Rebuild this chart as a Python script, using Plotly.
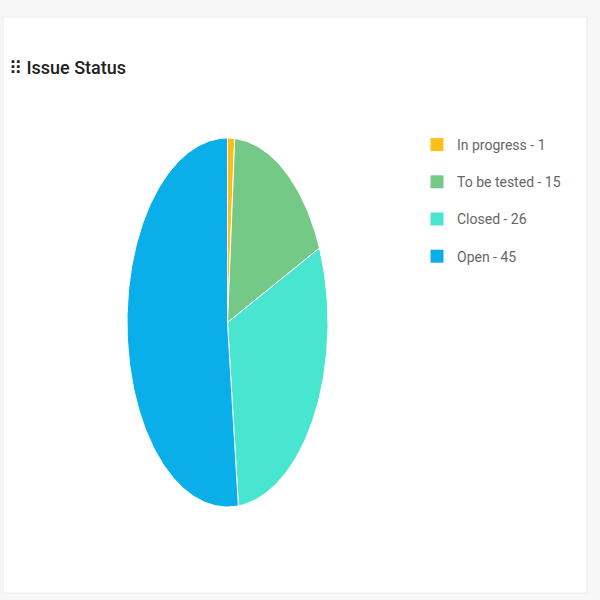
import numpy as np
import plotly.graph_objects as go

labels = ["In progress", "To be tested", "Closed", "Open"]
values = [1, 15, 26, 45]
colors = ["#FDBE19", "#75C986", "#48E5D0", "#0AAEE8"]

total = sum(values)
fig = go.Figure()

start = 0.0
for lab, val, col in zip(labels, values, colors):
    frac0 = start / total
    frac1 = (start + val) / total
    n = max(int((frac1 - frac0) * 400), 4)
    t = np.linspace(frac0, frac1, n)
    ang = np.pi / 2 - 2 * np.pi * t  # clockwise from top
    xs = np.concatenate([[0], np.cos(ang), [0]])
    ys = np.concatenate([[0], np.sin(ang), [0]])
    fig.add_trace(go.Scatter(
        x=xs, y=ys, mode="lines", fill="toself", fillcolor=col,
        line=dict(color="white", width=1),
        name=f"{lab} - {val}", legendgroup=lab, showlegend=False,
        hoverinfo="skip"))
    start += val

for lab, val, col in zip(labels, values, colors):
    fig.add_trace(go.Scatter(
        x=[None], y=[None], mode="markers",
        marker=dict(symbol="square", size=13, color=col),
        name=f"{lab} - {val}", legendgroup=lab, showlegend=True))

fig.update_layout(
    width=600, height=600,
    margin=dict(l=0, r=0, t=0, b=0),
    paper_bgcolor="#f7f7f7",
    plot_bgcolor="rgba(0,0,0,0)",
    xaxis=dict(domain=[127 / 600, 328 / 600], range=[-1, 1], visible=False, fixedrange=True),
    yaxis=dict(domain=[1 - 507 / 600, 1 - 138 / 600], range=[-1, 1], visible=False, fixedrange=True),
    showlegend=True,
    legend=dict(x=417 / 600, y=1 - 129 / 600, xanchor="left", yanchor="top",
                font=dict(family="Roboto", size=14, color="#666666"),
                tracegroupgap=16, itemwidth=30, bgcolor="rgba(0,0,0,0)"),
    shapes=[dict(type="rect", xref="paper", yref="paper",
                 x0=3 / 600, x1=587 / 600, y0=1 - 593 / 600, y1=1 - 17 / 600,
                 fillcolor="white", line=dict(color="#ececec", width=1), layer="below")],
    annotations=[dict(text="⠿ Issue Status", xref="paper", yref="paper",
                      x=7 / 600, y=1 - 67 / 600, xanchor="left", yanchor="middle",
                      showarrow=False,
                      font=dict(family="Roboto", size=18, weight=500, color="#222222"))],
)

fig.write_html("out.html", config={"displayModeBar": False},
               post_script="document.body.style.margin='0';document.body.style.overflow='hidden';")
